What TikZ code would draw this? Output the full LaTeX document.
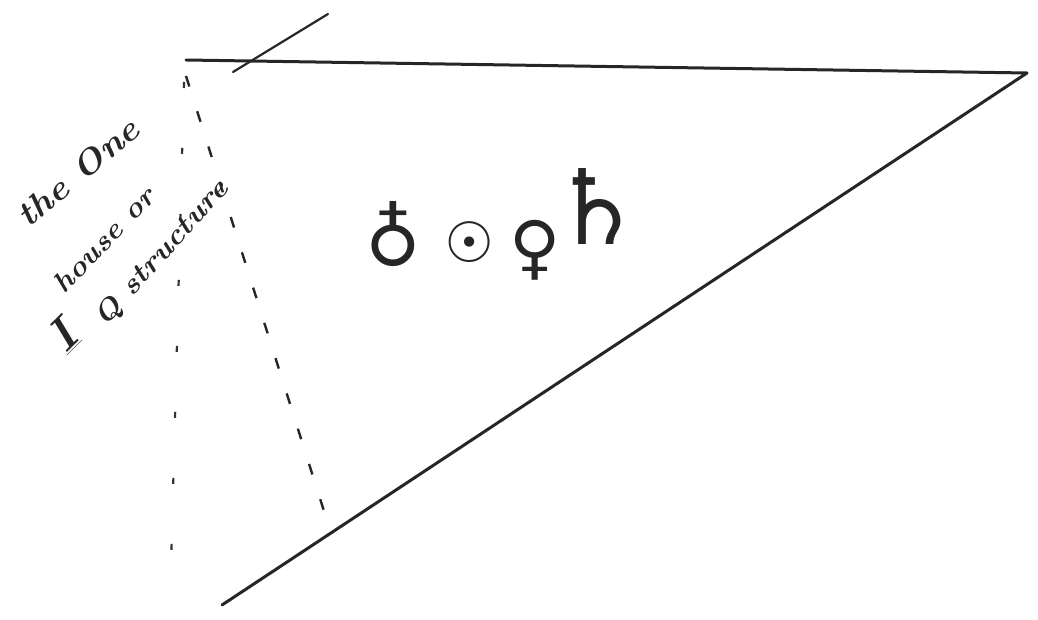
\documentclass[tikz,border=0pt]{standalone}
\usepackage{fontspec}
\newfontfamily\symfont{DejaVu Sans}
\begin{document}
\begin{tikzpicture}[x=1pt,y=-1pt,
  pen/.style={line width=3pt,line cap=round,line join=round,black!85},
  thinpen/.style={line width=2.2pt,line cap=round,black!85},
  dashpen/.style={line width=2.4pt,black!85,dash pattern=on 11pt off 26pt},
  dotpen/.style={line width=2.2pt,black!80,dash pattern=on 6pt off 60pt},
  hand/.style={font=\fontsize{#1}{#1}\selectfont\bfseries\itshape,inner sep=0pt,black!85},
  sym/.style={font=\symfont\fontsize{#1}{#1}\selectfont,inner sep=0pt,black!85}]
\useasboundingbox (0,0) rectangle (1038,620);
% corners
\coordinate (A) at (186,60);
\coordinate (B) at (1027,73);
\coordinate (C) at (222,605);
\coordinate (S1) at (233,72);
\coordinate (S2) at (328,14);
\coordinate (D1) at (186,76);
\coordinate (D2) at (330,530);
\coordinate (V1) at (184,82);
\coordinate (V2) at (170,605);
% main lines
\draw[pen] (A) -- (B) -- (C);
\draw[thinpen] (S1) -- (S2);
\draw[dashpen] (D1) -- (D2);
\draw[dotpen] (V1) -- (V2);
% symbols
\node[sym=76] (s1) at (393,234) {♁};
\node[sym=56] (s2) at (470,242) {☉};
\node[sym=70] (s3) at (535,250) {♀};
\node[sym=104] (s4) at (597,207) {♄};
% handwriting
\node[hand=34,rotate=40] (t1) at (78,172) {\scalebox{1.1}[1]{the One}};
\node[hand=28,rotate=46] (t2) at (104,240) {\scalebox{1.1}[1]{house or}};
\node[hand=46,rotate=45] (t3) at (63,336) {\underline{I}};
\node[hand=28,rotate=48] (t4) at (162,254) {\scalebox{1.15}[1]{Q structure}};
\end{tikzpicture}
\end{document}
